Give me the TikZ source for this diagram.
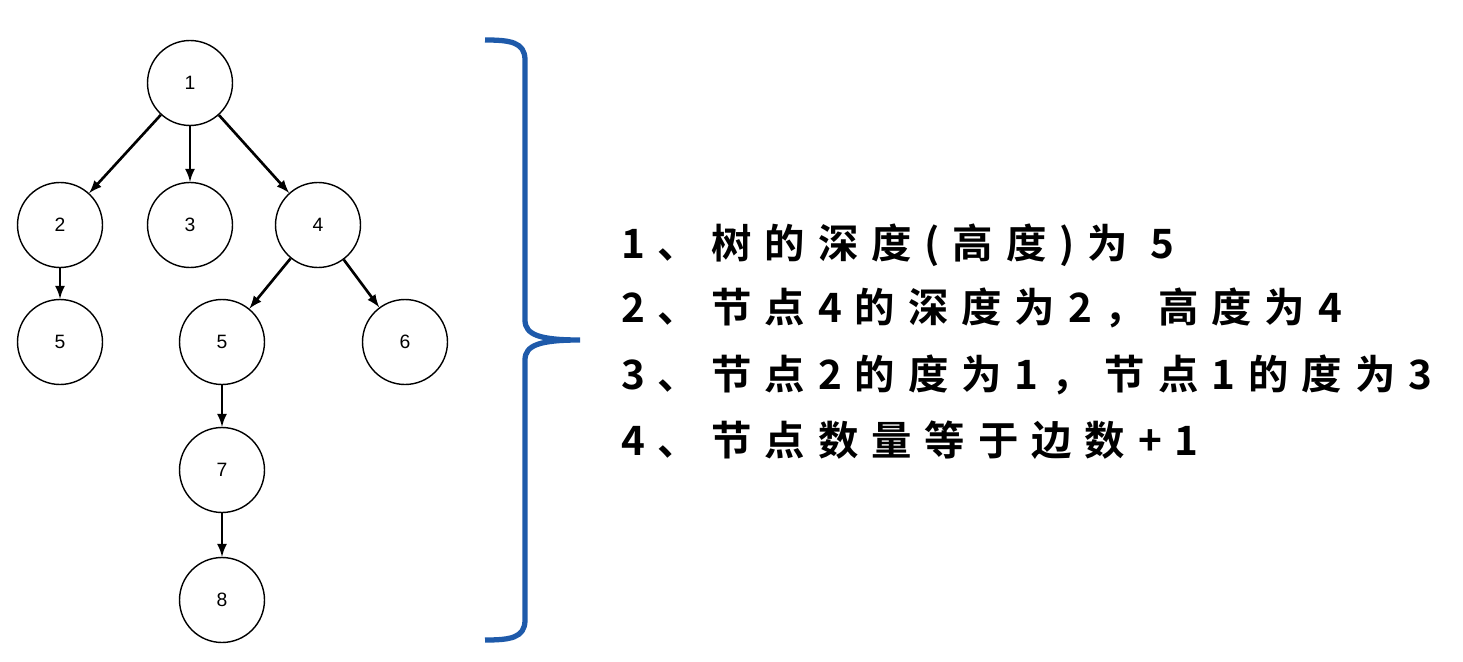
\documentclass[tikz,border=0pt]{standalone}
\usepackage{fontspec}
\setmainfont{Liberation Sans}
\newfontfamily\cjk{Noto Sans CJK SC}[BoldFont={Noto Sans CJK SC Bold},LetterSpace=32]
\begin{document}
\begin{tikzpicture}[x=0.02cm,y=-0.02cm,
  tn/.style={circle,draw,line width=0.8pt,minimum size=1.7cm,inner sep=0pt,font=\fontsize{11}{11}\selectfont},
  ar/.style={-latex,line width=1.5pt},
  tx/.style={anchor=west,font=\cjk\bfseries\fontsize{23}{23}\selectfont}]
\useasboundingbox (0,0) rectangle (1463,662);
\node[tn] (n1) at (190,83) {1};
\node[tn] (n2) at (60,225) {2};
\node[tn] (n3) at (190,225) {3};
\node[tn] (n4) at (318,225) {4};
\node[tn] (n5a) at (60,342) {5};
\node[tn] (n5b) at (222,342) {5};
\node[tn] (n6) at (405,342) {6};
\node[tn] (n7) at (222,470) {7};
\node[tn] (n8) at (222,600) {8};
\draw[ar] (n1) -- (n2);
\draw[ar] (n1) -- (n3);
\draw[ar] (n1) -- (n4);
\draw[ar] (n2) -- (n5a);
\draw[ar] (n4) -- (n5b);
\draw[ar] (n4) -- (n6);
\draw[ar] (n5b) -- (n7);
\draw[ar] (n7) -- (n8);
\coordinate (bt) at (485,40);
\coordinate (bb) at (485,640);
\coordinate (bm) at (580,340);
\draw[line width=3pt,color={rgb,255:red,30;green,90;blue,170}]
  (bt) .. controls (510,40) and (525,42) .. (525,60) -- (525,320)
  .. controls (525,335) and (540,340) .. (bm)
  .. controls (540,340) and (525,345) .. (525,360) -- (525,620)
  .. controls (525,638) and (510,640) .. (bb);
\node[tx] (t1) at (615,245) {1、树的深度(高度)为 5};
\node[tx] (t2) at (615,308) {2、节点4的深度为2，高度为4};
\node[tx] (t3) at (615,375) {3、节点2的度为1，节点1的度为3};
\node[tx] (t4) at (615,440) {4、节点数量等于边数+1};
\end{tikzpicture}
\end{document}
